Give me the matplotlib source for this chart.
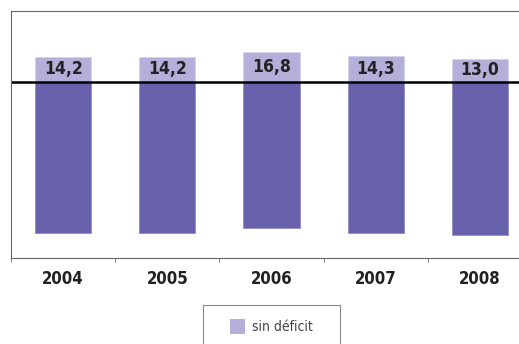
import matplotlib.pyplot as plt
from matplotlib.patches import Rectangle

# datos
anios = ["2004", "2005", "2006", "2007", "2008"]
sin_deficit = [14.2, 14.2, 16.8, 14.3, 13.0]
con_deficit = [-85.8, -85.8, -83.2, -85.7, -87.0]
etiquetas = ["14,2", "14,2", "16,8", "14,3", "13,0"]

OSCURO = "#6661AA"
CLARO = "#B4AFD9"

plt.rcParams['font.family'] = ["DejaVu Sans"]
plt.rcParams['font.stretch'] = "condensed"

fig = plt.figure(figsize=(5.19, 3.44), dpi=100)
ax = fig.add_axes([11/519, 86/344, 521/519, 247/344])

x = list(range(len(anios)))
ax.bar(x, con_deficit, width=0.54, color=OSCURO, edgecolor="#8C88C4", linewidth=0.5)
ax.bar(x, sin_deficit, width=0.54, color=CLARO, edgecolor="#D4D1EC", linewidth=0.5)

for i, v in enumerate(sin_deficit):
    ax.text(i, v / 2, etiquetas[i], ha="center", va="center",
            fontsize=12.5, fontweight="bold", color="#222222", fontstretch="condensed")

ax.axhline(0, color="black", lw=1.8)

ax.set_xlim(-0.5, len(anios) - 0.5)
ax.set_ylim(-100, 40)
ax.set_yticks([])
ax.set_xticks(x)
ax.set_xticklabels(anios, fontsize=12, fontweight="bold", color="#222222",
                   fontstretch="condensed")
ax.tick_params(axis="x", which="major", length=0, pad=9)
ax.set_xticks([i - 0.5 for i in range(len(anios) + 1)], minor=True)
ax.tick_params(axis="x", which="minor", length=3, direction="out", color="#666666")

for s in ax.spines.values():
    s.set_color("#666666")
    s.set_linewidth(0.8)

# leyenda
fig.patches.append(Rectangle((203/519, -0.05), 137/519, (344-305)/344 + 0.05,
                             transform=fig.transFigure, facecolor="white",
                             edgecolor="#888888", linewidth=0.8))
fig.patches.append(Rectangle((230/519, (344-334)/344), 15/519, 15/344,
                             transform=fig.transFigure, facecolor=CLARO,
                             edgecolor="none"))
fig.text(252/519, (344-327)/344, "sin déficit", fontsize=10, color="#444444",
         va="center", ha="left", fontstretch="condensed")

plt.savefig("out.png", dpi=100)
